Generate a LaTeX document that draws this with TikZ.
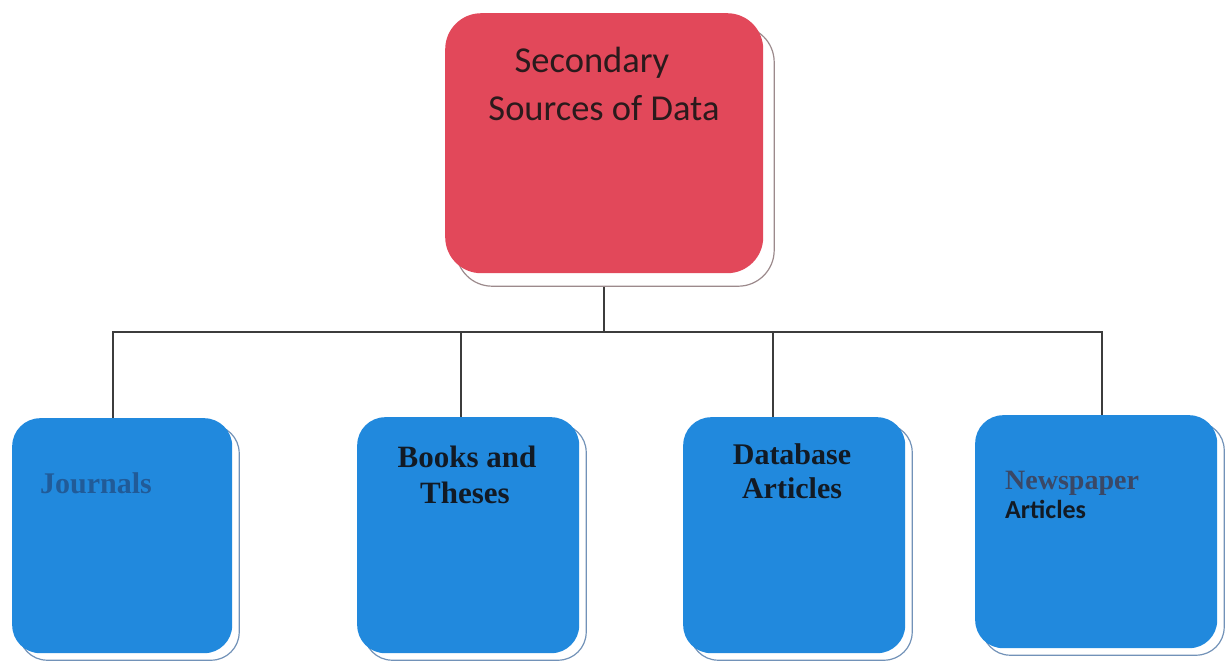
\documentclass[tikz,border=0pt]{standalone}
\usepackage{fontspec}
\setmainfont{Liberation Serif}
\newfontfamily\carlito{Carlito}
\usetikzlibrary{shadows,backgrounds}

\definecolor{boxred}{HTML}{E2485A}
\definecolor{boxblue}{HTML}{2189DD}
\definecolor{redshadow}{HTML}{9C8A8C}
\definecolor{blueshadow}{HTML}{7292B8}
\definecolor{wirecol}{HTML}{3C3C3C}
\definecolor{toptext}{HTML}{2A1A1C}
\definecolor{darktext}{HTML}{121A24}
\definecolor{journtext}{HTML}{215B98}
\definecolor{newstext}{HTML}{3A4866}

\begin{document}
\begin{tikzpicture}[x=1pt,y=-1pt,
  card/.style={anchor=north west, inner sep=0pt, rounded corners=28pt,
    fill=boxblue,
    general shadow={fill=white, draw=blueshadow, line width=1.2pt,
      shadow xshift=7pt, shadow yshift=-7pt}},
  topcard/.style={anchor=north west, inner sep=0pt, rounded corners=36pt,
    fill=boxred,
    general shadow={fill=white, draw=redshadow, line width=1.2pt,
      shadow xshift=11pt, shadow yshift=-13pt}},
  lbl/.style={inner sep=0pt},
  wire/.style={draw=wirecol, line width=1.5pt}
]
\useasboundingbox (0,0) rectangle (1227,662);

% boxes
\node[topcard, minimum width=318pt, minimum height=260pt] (top) at (445,13) {};
\node[card, minimum width=220pt, minimum height=235pt] (jour) at (12,418) {};
\node[card, minimum width=222pt, minimum height=236pt] (book) at (357,417) {};
\node[card, minimum width=222pt, minimum height=236pt] (data) at (683,417) {};
\node[card, minimum width=242pt, minimum height=233pt] (news) at (975,415) {};

% labels
\node[lbl, anchor=base, text=toptext] (t1) at (592,72)
  {\carlito\fontsize{36.5}{42}\selectfont Secondary};
\node[lbl, anchor=base, text=toptext] (t2) at (604,120)
  {\carlito\fontsize{36.5}{42}\selectfont Sources of Data};

\node[lbl, anchor=base west, text=journtext] (j1) at (40,493)
  {\fontsize{30}{36}\selectfont\bfseries Journals};

\node[lbl, anchor=base, text=darktext] (b1) at (467,467)
  {\fontsize{31}{36}\selectfont\bfseries Books and};
\node[lbl, anchor=base, text=darktext] (b2) at (465,503)
  {\fontsize{31}{36}\selectfont\bfseries Theses};

\node[lbl, anchor=base, text=darktext] (d1) at (792,464)
  {\fontsize{30}{36}\selectfont\bfseries Database};
\node[lbl, anchor=base, text=darktext] (d2) at (792,498)
  {\fontsize{30}{36}\selectfont\bfseries Articles};

\node[lbl, anchor=base west, text=newstext] (n1) at (1005,489)
  {\fontsize{28}{34}\selectfont\bfseries Newspaper};
\node[lbl, anchor=base west, text=darktext] (n2) at (1005,518)
  {\carlito\fontsize{26}{30}\selectfont\bfseries Articles};

% connectors
\coordinate (bus) at (604,332);
\begin{scope}[on background layer]
  \draw[wire] (top.south) -- (top.south |- bus);
  \draw[wire] ([xshift=-9pt]jour.north) |- ([xshift=6pt]news.north |- bus)
    -- ([xshift=6pt]news.north);
  \draw[wire] ([xshift=-7pt]book.north) -- ([xshift=-7pt]book.north |- bus);
  \draw[wire] ([xshift=-21pt]data.north) -- ([xshift=-21pt]data.north |- bus);
\end{scope}
\end{tikzpicture}
\end{document}
